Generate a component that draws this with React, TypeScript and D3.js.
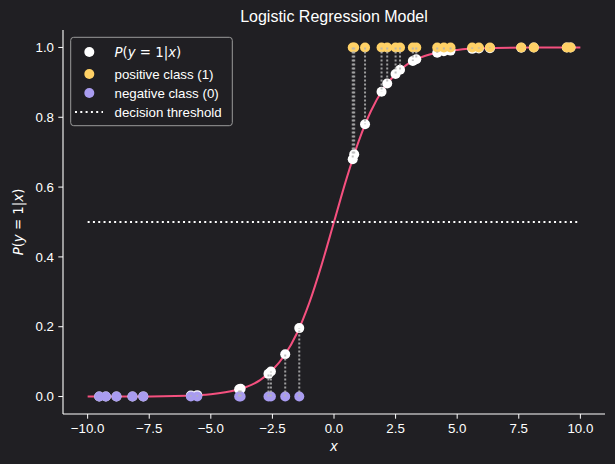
import * as d3 from 'd3';

// class 0 samples: x and the model's P(y=1|x)
const negX = [-9.53, -9.26, -8.83, -8.18, -7.74, -5.81, -5.55, -3.85, -3.79, -2.66, -2.56, -1.98, -1.41];
const negP = [0.0001, 0.0001, 0.0001, 0.0003, 0.0004, 0.003, 0.004, 0.021, 0.022, 0.065, 0.072, 0.121, 0.196];

// class 1 samples
const posX = [0.76, 0.82, 1.26, 1.93, 2.16, 2.5, 2.68, 3.2, 3.34, 4.19, 4.46, 4.73, 5.61, 5.88, 6.33, 7.6, 8.11, 9.45, 9.6];
const posP = [0.68, 0.694, 0.78, 0.873, 0.897, 0.924, 0.936, 0.961, 0.966, 0.985, 0.989, 0.991, 0.996, 0.997, 0.998, 0.9995, 0.9997, 0.9999, 0.9999];

// model curve
const curveX = [-10, -8, -6, -5, -4, -3.5, -3, -2.5, -2, -1.5, -1, -0.5, 0, 0.5, 1, 1.5, 2, 2.5, 3, 3.5, 4, 5, 6, 8, 10];
const curveP = [0.00005, 0.0003, 0.0025, 0.0067, 0.018, 0.029, 0.047, 0.076, 0.119, 0.182, 0.269, 0.378, 0.5, 0.622, 0.731, 0.818, 0.881, 0.924, 0.953, 0.971, 0.982, 0.993, 0.9975, 0.9997, 1.0];

const xTicks = [-10, -7.5, -5, -2.5, 0, 2.5, 5, 7.5, 10];
const yTicks = [0, 0.2, 0.4, 0.6, 0.8, 1.0];
const threshold = 0.5;
const thresholdRange = [-10, 10];

const BG = '#201f23';
const PINK = '#f5507f';
const YELLOW = '#ffd166';
const PURPLE = '#a99cf0';
const FONT = '"Liberation Sans", Arial, sans-serif';
const MATH = '"DejaVu Sans", sans-serif';

function MathLabel(props: any) {
  // P(y = 1|x) in matplotlib mathtext style
  return (
    <text {...props} fontFamily={MATH}>
      <tspan fontStyle="italic">P</tspan>
      <tspan>(</tspan>
      <tspan fontStyle="italic">y</tspan>
      <tspan> = 1|</tspan>
      <tspan fontStyle="italic">x</tspan>
      <tspan>)</tspan>
    </text>
  );
}

export default function App() {
  const width = 615;
  const height = 464;
  const margin = { top: 30, right: 10, bottom: 50, left: 63 };
  const right = width - margin.right;
  const bottom = height - margin.bottom;

  const x = d3.scaleLinear().domain([-11, 11]).range([margin.left, right]);
  const y = d3.scaleLinear().domain([-0.05, 1.05]).range([bottom, margin.top]);
  const fmt = d3.format('.1f');

  const curve = d3.line<number>()
    .x((d) => x(d))
    .y((_, i) => y(curveP[i]))
    .curve(d3.curveMonotoneX);

  const neg = negX.map((v, i) => ({ x: v, p: negP[i], cls: 0 }));
  const pos = posX.map((v, i) => ({ x: v, p: posP[i], cls: 1 }));
  const all = [...neg, ...pos];

  const legendRows = [52, 74, 93, 112];

  return (
    <svg width={width} height={height} style={{ position: 'absolute', left: 0, top: 0, background: BG }}>
      <rect width={width} height={height} fill={BG} />

      {/* model curve */}
      <path d={curve(curveX) || ''} fill="none" stroke={PINK} strokeWidth={2} />

      {/* decision threshold */}
      <line
        x1={x(thresholdRange[0])} x2={x(thresholdRange[1])}
        y1={y(threshold)} y2={y(threshold)}
        stroke="#ffffff" strokeWidth={2} strokeDasharray="2 3.3"
      />

      {/* predicted probabilities */}
      {all.map((d, i) => (
        <circle key={'p' + i} cx={x(d.x)} cy={y(d.p)} r={5} fill="#ffffff" />
      ))}

      {/* observed classes */}
      {all.map((d, i) => (
        <circle key={'c' + i} cx={x(d.x)} cy={y(d.cls)} r={5} fill={d.cls ? YELLOW : PURPLE} />
      ))}

      {/* residuals */}
      {all.map((d, i) => (
        <line key={'r' + i}
          x1={x(d.x)} x2={x(d.x)} y1={y(d.cls)} y2={y(d.p)}
          stroke="#b4b4b4" strokeOpacity={0.85} strokeWidth={2} strokeDasharray="2 2"
        />
      ))}

      {/* axes */}
      <line x1={margin.left} x2={margin.left} y1={margin.top} y2={bottom} stroke="#ffffff" strokeWidth={1.1} />
      <line x1={margin.left} x2={right} y1={bottom} y2={bottom} stroke="#ffffff" strokeWidth={1.1} />
      {xTicks.map((t) => (
        <g key={'xt' + t}>
          <line x1={x(t)} x2={x(t)} y1={bottom} y2={bottom + 4.7} stroke="#ffffff" />
          <text x={x(t)} y={bottom + 19} textAnchor="middle" fontSize={13.3} fontFamily={FONT} fill="#ffffff">
            {fmt(t)}
          </text>
        </g>
      ))}
      {yTicks.map((t) => (
        <g key={'yt' + t}>
          <line x1={margin.left - 4.7} x2={margin.left} y1={y(t)} y2={y(t)} stroke="#ffffff" />
          <text x={margin.left - 9} y={y(t)} dy="0.35em" textAnchor="end" fontSize={13.3} fontFamily={FONT} fill="#ffffff">
            {fmt(t)}
          </text>
        </g>
      ))}

      <text x={(margin.left + right) / 2} y={451} textAnchor="middle" fontSize={13.3} fontFamily={MATH} fontStyle="italic" fill="#ffffff">x</text>
      <MathLabel
        x={0} y={0} textAnchor="middle" fontSize={13.3} fill="#ffffff"
        transform={`translate(23, ${(margin.top + bottom) / 2}) rotate(-90)`}
      />

      <text x={(margin.left + right) / 2} y={22} textAnchor="middle" fontSize={16} fontFamily={FONT} fill="#ffffff">
        Logistic Regression Model
      </text>

      {/* legend */}
      <rect x={70.7} y={37.3} width={161.6} height={88.4} rx={3} fill={BG} fillOpacity={0.8} stroke="#9a9a9a" strokeWidth={1} />
      <circle cx={89.3} cy={legendRows[0]} r={5} fill="#ffffff" />
      <MathLabel x={114.5} y={legendRows[0]} dy="0.35em" fontSize={13.3} fill="#ffffff" />
      <circle cx={89.3} cy={legendRows[1]} r={5} fill={YELLOW} />
      <text x={114.5} y={legendRows[1]} dy="0.35em" fontSize={13.3} fontFamily={FONT} fill="#ffffff">positive class (1)</text>
      <circle cx={89.3} cy={legendRows[2]} r={5} fill={PURPLE} />
      <text x={114.5} y={legendRows[2]} dy="0.35em" fontSize={13.3} fontFamily={FONT} fill="#ffffff">negative class (0)</text>
      <line x1={75} x2={103} y1={legendRows[3]} y2={legendRows[3]} stroke="#ffffff" strokeWidth={2} strokeDasharray="2 3.3" />
      <text x={114.5} y={legendRows[3]} dy="0.35em" fontSize={13.3} fontFamily={FONT} fill="#ffffff">decision threshold</text>
    </svg>
  );
}
